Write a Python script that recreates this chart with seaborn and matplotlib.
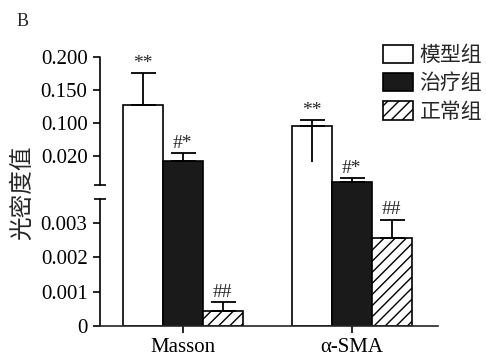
import numpy as np
import pandas as pd
import matplotlib
matplotlib.use("Agg")
import matplotlib.pyplot as plt
import matplotlib.transforms as mtransforms
import seaborn as sns

# ---- data ----
categories = ["Masson", "α-SMA"]
groups = ["模型组", "治疗组", "正常组"]
model_vals = [0.127, 0.093]
treat_vals = [0.0181, 0.0102]
normal_vals = [0.00044, 0.00257]
model_err_up = [0.048, 0.0115]
treat_err_up = [0.0092, 0.0015]
normal_err_up = [0.00026, 0.00053]
model_err_down = [0.0, 0.075]
marks = [["**", "**"], ["#*", "#*"], ["##", "##"]]

ytick_vals = [0, 0.001, 0.002, 0.003, 0.02, 0.1, 0.15, 0.2]
ytick_labels = ["0", "0.001", "0.002", "0.003", "0.020", "0.100", "0.150", "0.200"]

# broken axis: piecewise linear scale
knot_vals = [0, 0.0037, 0.02, 0.1, 0.15, 0.2, 0.3]
knot_pos = [0, 3.7, 4.95, 5.92, 6.9, 7.85, 9.75]


def fwd(v):
    return np.interp(v, knot_vals, knot_pos)


def inv(p):
    return np.interp(p, knot_pos, knot_vals)


df = pd.DataFrame({
    "cat": categories * 3,
    "group": [g for g in groups for _ in categories],
    "val": model_vals + treat_vals + normal_vals,
})
err_up = [model_err_up, treat_err_up, normal_err_up]
err_down = [model_err_down, [0.0, 0.0], [0.0, 0.0]]

sns.set_style("ticks")
plt.rcParams["font.family"] = ["Liberation Serif", "Noto Sans CJK SC"]
plt.rcParams["hatch.linewidth"] = 1.0

fig = plt.figure(figsize=(4.86, 3.58), dpi=100)
ax = fig.add_axes([100 / 486, 32 / 358, 338 / 486, 269 / 358])

sns.barplot(data=df, x="cat", y="val", hue="group", hue_order=groups,
            palette=["white", "#1a1a1a", "white"], edgecolor="black",
            linewidth=1.2, width=0.71, errorbar=None, ax=ax)
ax.set_yscale("function", functions=(fwd, inv))

bars = list(ax.containers)
for p in bars[2].patches:
    p.set_hatch("///")

for gi, cont in enumerate(bars):
    for ci, p in enumerate(cont.patches):
        x = p.get_x() + p.get_width() / 2
        v = p.get_height()
        ax.errorbar(x, v, yerr=[[0], [err_up[gi][ci]]],
                    fmt="none", ecolor="black", elinewidth=1.3,
                    capsize=9, capthick=1.3, zorder=1)
        if err_down[gi][ci] > 0:
            ax.vlines(x, v - err_down[gi][ci], v, color="black", lw=1.3, zorder=3)
        ax.annotate(marks[gi][ci], (x, v + err_up[gi][ci]),
                    xytext=(0, 1), textcoords="offset points",
                    ha="center", va="bottom", fontsize=14, annotation_clip=False)

ax.set_xlim(-0.49, 1.51)
ax.set_ylim(0, 0.2)
ax.set_yticks(ytick_vals)
ax.set_yticklabels(ytick_labels)
ax.yaxis.set_minor_locator(matplotlib.ticker.NullLocator())
ax.tick_params(axis="both", direction="out", length=5, width=1.2,
               labelsize=15, pad=4, colors="black")
ax.set_xlabel("")
ax.set_ylabel("")

# left spine with a break
ax.spines["left"].set_visible(False)
ax.spines["top"].set_visible(False)
ax.spines["right"].set_visible(False)
ax.spines["bottom"].set_linewidth(1.2)
tr = mtransforms.blended_transform_factory(ax.transAxes, ax.transData)
for lo, hi in [(0, 0.0037), (0.009, 0.2)]:
    ax.plot([0, 0], [lo, hi], color="black", lw=1.2, transform=tr, clip_on=False)
ax.plot([0, 0], [0.0037, 0.009], ls="none", marker="_", ms=8, mew=1.2,
        color="black", transform=tr, clip_on=False)

ax.legend(bars, groups, loc="upper left", bbox_to_anchor=(383 / 486, 1 - 44 / 358),
          bbox_transform=fig.transFigure, frameon=False,
          prop={"family": ["Noto Sans CJK SC"], "size": 15},
          handlelength=1.45, handleheight=1.0, handletextpad=0.3,
          labelspacing=0.3, borderpad=0, borderaxespad=0)

fig.text(23 / 486, 1 - 193 / 358, "光密度值", rotation=90, ha="center", va="center",
         fontsize=17, family=["Noto Sans CJK SC"])
fig.text(17 / 486, 1 - 22 / 358, "B", ha="left", va="center", fontsize=13)

fig.savefig("out.png", dpi=100)
